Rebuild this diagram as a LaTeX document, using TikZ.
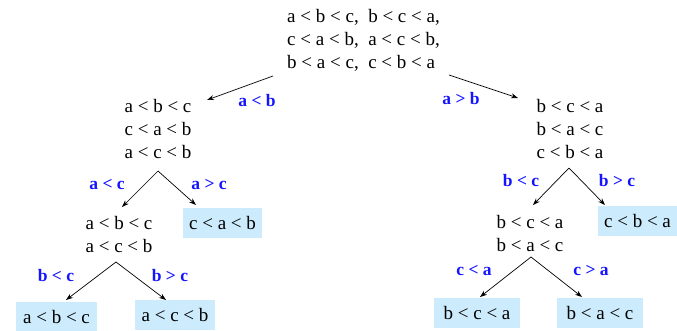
\documentclass[tikz,border=0pt]{standalone}
\usepackage{fontspec}
\setmainfont{Liberation Serif}
\usetikzlibrary{arrows.meta}
\definecolor{leafblue}{RGB}{204,235,252}
\definecolor{lblblue}{RGB}{20,20,255}
\begin{document}
\begin{tikzpicture}[x=1pt,y=-1pt,
  txt/.style={inner sep=0pt,align=left,font=\fontsize{19}{23}\selectfont},
  leaf/.style={inner sep=0pt,fill=leafblue,minimum height=30pt,font=\fontsize{19}{23}\selectfont},
  lbl/.style={inner sep=0pt,text=lblblue,font=\fontsize{17.5}{20}\selectfont\bfseries},
  arr/.style={-{Stealth[length=7pt,width=5pt]},line width=0.7pt}]
\useasboundingbox (0,0) rectangle (677,331);
% nodes
\node[txt] (root) at (363.5,40) {a < b < c,\ \ b < c < a,\\c < a < b,\ \ a < c < b,\\b < a < c,\ \ c < b < a};
\node[txt] (L1) at (158,129) {a < b < c\\c < a < b\\a < c < b};
\node[txt] (R1) at (570,129) {b < c < a\\b < a < c\\c < b < a};
\node[txt] (L2) at (119,235) {a < b < c\\a < c < b};
\node[txt] (R2) at (530,233.5) {b < c < a\\b < a < c};
\node[leaf,minimum width=79pt] (LR) at (222.5,223) {c < a < b};
\node[leaf,minimum width=79pt] (RR) at (637.5,221) {c < b < a};
\node[leaf,minimum width=81pt] (LLL) at (56.5,317) {a < b < c};
\node[leaf,minimum width=80pt] (LLR) at (175,315) {a < c < b};
\node[leaf,minimum width=86pt] (RRL) at (477,313) {b < c < a};
\node[leaf,minimum width=86pt] (RRR) at (600,313) {b < a < c};
% labels
\node[lbl] (l1) at (257,101) {a < b};
\node[lbl] (l2) at (461,99) {a > b};
\node[lbl] (l3) at (107,184) {a < c};
\node[lbl] (l4) at (209,184) {a > c};
\node[lbl] (l5) at (56,276) {b < c};
\node[lbl] (l6) at (170,276) {b > c};
\node[lbl] (l7) at (521,181) {b < c};
\node[lbl] (l8) at (617,181) {b > c};
\node[lbl] (l9) at (474,270) {c < a};
\node[lbl] (l10) at (591,270) {c > a};
% connectors
\draw[arr] ([shift={(-90.5,36)}]root.center) -- ([shift={(49,-29)}]L1.center);
\draw[arr] ([shift={(85.5,35)}]root.center) -- ([shift={(-52,-31)}]R1.center);
\draw[arr] ([shift={(0,42)}]L1.center) -- ([shift={(3,-28)}]L2.center);
\draw[arr] ([shift={(0,42)}]L1.center) -- ([shift={(-26.5,-18)}]LR.center);
\draw[arr] ([shift={(-3,27)}]L2.center) -- ([shift={(9.5,-17)}]LLL.center);
\draw[arr] ([shift={(-3,27)}]L2.center) -- ([shift={(-9,-15)}]LLR.center);
\draw[arr] ([shift={(-1,39)}]R1.center) -- ([shift={(3,-28.5)}]R2.center);
\draw[arr] ([shift={(-1,39)}]R1.center) -- ([shift={(-32.5,-16)}]RR.center);
\draw[arr] ([shift={(1,23.5)}]R2.center) -- ([shift={(3,-16)}]RRL.center);
\draw[arr] ([shift={(1,23.5)}]R2.center) -- ([shift={(-18,-16)}]RRR.center);
\end{tikzpicture}
\end{document}
